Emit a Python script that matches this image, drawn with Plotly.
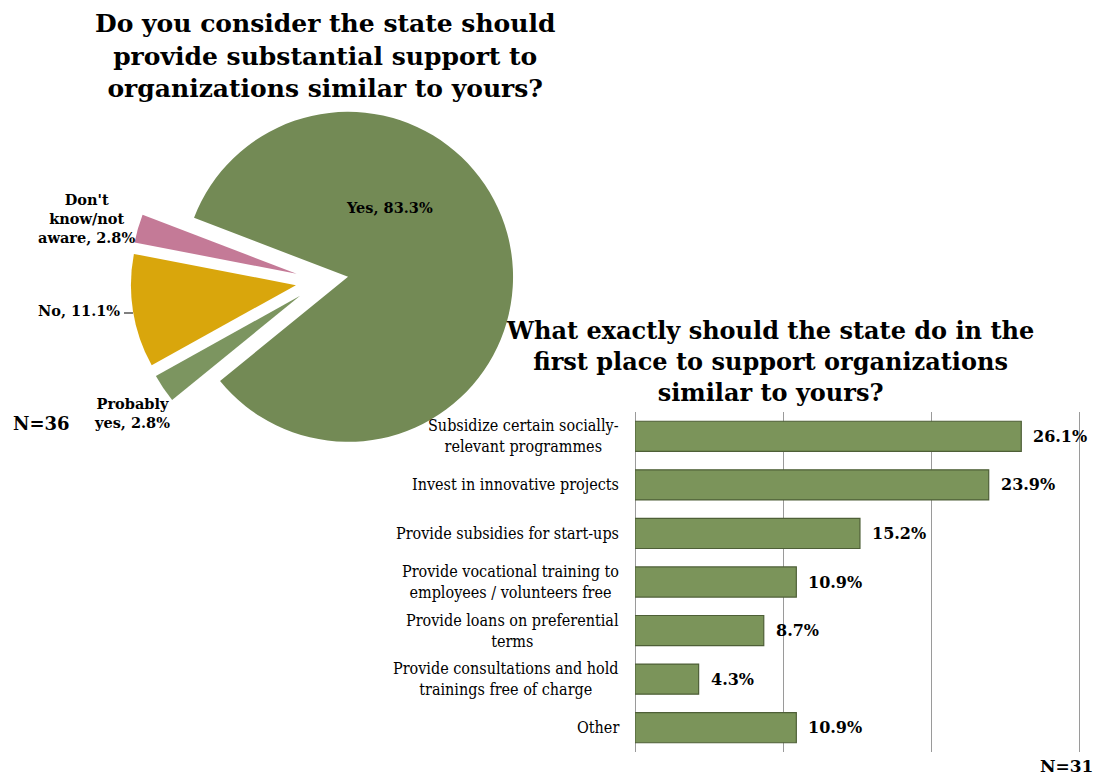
import plotly.graph_objects as go

# ---------------- data ----------------
pie_labels = ["Yes", "Probably yes", "No", "Don't know/not aware"]
pie_label_wrapped = ["Yes", "Probably<br>yes", "No", "Don't<br>know/not<br>aware"]
pie_values = [83.3, 2.8, 11.1, 2.8]
pie_colors = ["#738a55", "#7c9560", "#d9a60c", "#c47a97"]

bar_categories = [
    "Subsidize certain socially-relevant programmes",
    "Invest in innovative projects",
    "Provide subsidies for start-ups",
    "Provide vocational training to employees / volunteers free",
    "Provide loans on preferential terms",
    "Provide consultations and hold trainings free of charge",
    "Other",
]
bar_tick_labels = [
    "Subsidize certain socially-<br>relevant programmes",
    "Invest in innovative projects",
    "Provide subsidies for start-ups",
    "Provide vocational training to<br>employees / volunteers free",
    "Provide loans on preferential<br>terms",
    "Provide consultations and hold<br>trainings free of charge",
    "Other",
]
bar_values = [26.1, 23.9, 15.2, 10.9, 8.7, 4.3, 10.9]

pie_title = "Do you consider the state should<br>provide substantial support to<br>organizations similar to yours?"
bar_title = "What exactly should the state do in the<br>first place to support organizations<br>similar to yours?"
pie_n = "N=36"
bar_n = "N=31"

W, H = 1098, 778
SERIF = "DejaVu Serif"
BODY = "DejaVu Serif Condensed, Liberation Serif"
X_MAX = 30.3


def px(x):
    return x / W


def py(y):
    return 1 - y / H


fig = go.Figure()

fig.add_trace(go.Pie(
    labels=pie_labels,
    values=pie_values,
    sort=False,
    direction="clockwise",
    rotation=-69,
    pull=[0.16] * len(pie_values),
    marker=dict(colors=pie_colors, line=dict(width=0)),
    textinfo="none",
    hoverinfo="label+percent",
    domain=dict(x=[0.1189, 0.4676], y=[0.3928, 0.8848]),
    showlegend=False,
))

fig.add_trace(go.Bar(
    x=bar_values,
    y=bar_categories,
    orientation="h",
    marker=dict(color="#7b945a", line=dict(color="#4e5f37", width=1.2)),
    width=0.62,
    showlegend=False,
    hoverinfo="x+y",
))

annotations = []
# titles
annotations.append(dict(text=pie_title, x=px(325), y=py(56), xref="paper", yref="paper",
                        xanchor="center", yanchor="middle", showarrow=False, align="center",
                        font=dict(family=SERIF, size=25, color="#000", weight="bold")))
annotations.append(dict(text=bar_title, x=px(770), y=py(361), xref="paper", yref="paper",
                        xanchor="center", yanchor="middle", showarrow=False, align="center",
                        font=dict(family=SERIF, size=24, color="#000", weight="bold")))

# pie labels
pie_pos = {
    "Yes": (389, 207, "center"),
    "Probably yes": (132, 413, "center"),
    "No": (122, 310, "right"),
    "Don't know/not aware": (86, 219, "center"),
}
for lab, wrapped, val in zip(pie_labels, pie_label_wrapped, pie_values):
    x, y, anc = pie_pos[lab]
    annotations.append(dict(text=f"{wrapped}, {val:.1f}%", x=px(x), y=py(y), xref="paper", yref="paper",
                            xanchor=anc, yanchor="middle", showarrow=False, align="center",
                            font=dict(family=SERIF, size=14.5, color="#000", weight="bold")))

# bar category labels and values
for cat, tick, val in zip(bar_categories, bar_tick_labels, bar_values):
    annotations.append(dict(text=tick, x=px(621), y=cat, xref="paper", yref="y",
                            xanchor="right", yanchor="middle", showarrow=False, align="center",
                            font=dict(family=BODY, size=16, color="#000")))
    annotations.append(dict(text=f"{val:.1f}%", x=val, y=cat, xref="x", yref="y", xshift=10,
                            xanchor="left", yanchor="middle", showarrow=False,
                            font=dict(family=SERIF, size=16, color="#000", weight="bold")))

# sample sizes
annotations.append(dict(text=pie_n, x=px(41), y=py(423), xref="paper", yref="paper",
                        xanchor="center", yanchor="middle", showarrow=False,
                        font=dict(family=SERIF, size=18, color="#000", weight="bold")))
annotations.append(dict(text=bar_n, x=px(1095), y=py(766), xref="paper", yref="paper",
                        xanchor="right", yanchor="middle", showarrow=False,
                        font=dict(family=SERIF, size=17, color="#000", weight="bold")))

x0_px, x30_px = 635, 1079
x_right_px = x0_px + (x30_px - x0_px) * X_MAX / 30

fig.update_layout(
    width=W, height=H,
    margin=dict(l=0, r=0, t=0, b=0),
    paper_bgcolor="white", plot_bgcolor="white",
    annotations=annotations,
    shapes=[dict(type="line", xref="paper", yref="paper", x0=px(124), x1=px(133), y0=py(313), y1=py(313),
                 line=dict(color="#000", width=1))],
    xaxis=dict(domain=[x0_px / W, x_right_px / W], range=[0, X_MAX], dtick=10, showgrid=True,
               gridcolor="#9a9a9a", gridwidth=1, zeroline=True, zerolinecolor="#9a9a9a",
               zerolinewidth=1, showticklabels=False, ticks="", fixedrange=True),
    yaxis=dict(domain=[1 - 752 / H, 1 - 412 / H], categoryorder="array", categoryarray=bar_categories,
               autorange="reversed", showticklabels=False, showgrid=False, ticks="", fixedrange=True),
)

fig.write_html("out.html", config={"displayModeBar": False},
               post_script="document.body.style.margin='0';document.body.style.overflow='hidden';")
